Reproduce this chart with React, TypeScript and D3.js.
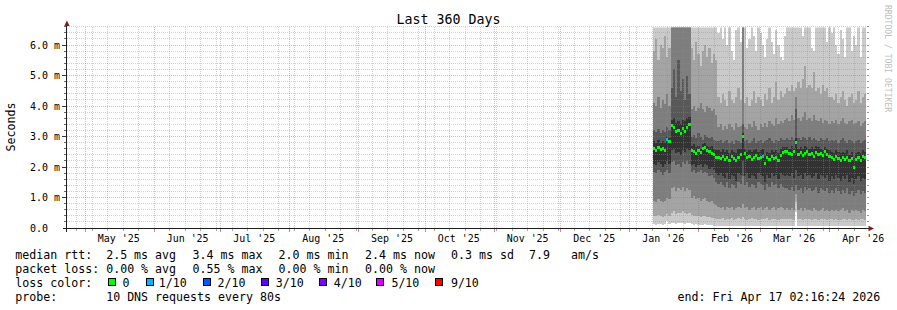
import React from "react";
import * as d3 from "d3";

const W = 897;
const H = 310;
const PLOT_L = 67;
const PLOT_R = 867;
const PLOT_B = 228;
const SMOKE_TOP = 27.5;
const GRID_TOP = 26;

const DAY = 86400000;
const axisStart = new Date(Date.UTC(2025, 3, 22, 17, 0));
const axisEnd = new Date(Date.UTC(2026, 3, 17, 17, 0));
const dataStart = Date.UTC(2026, 0, 11, 8, 0);

const titleText = "Last 360 Days";
const yAxisTitle = "Seconds";
const watermark = "RRDTOOL / TOBI OETIKER";
const yTickValues = [0, 1, 2, 3, 4, 5, 6];
const yTickLabels = ["0.0", "1.0 m", "2.0 m", "3.0 m", "4.0 m", "5.0 m", "6.0 m"];

// sorted ping percentiles (ms), one value per day from 11 Jan 2026
const ping1 = [
  0.12, 0.10, 0.14, 0.12, 0.10, 0.12, 0.22, 0.12,
  0.15, 0.18, 0.14, 0.16, 0.15, 0.18, 0.14, 0.15, 0.16,
  0.12, 0.10, 0.12, 0.10, 0.11, 0.10, 0.12, 0.10, 0.09, 0.10, 0.08, 0.07,
  0.06, 0.05, 0.07, 0.06, 0.05, 0.06, 0.07, 0.05, 0.06, 0.06, 0.05, 0.08, 0.06, 0.05, 0.06, 0.07,
  0.05, 0.06, 0.06, 0.05, 0.07, 0.06, 0.05, 0.06, 0.07, 0.05, 0.06, 0.06, 0.05, 0.06, 0.07,
  0.06, 0.05, 0.06, 0.07, 0.52, 0.06, 0.05, 0.06, 0.06, 0.05, 0.07, 0.06, 0.05, 0.06, 0.06,
  0.05, 0.06, 0.07, 0.05, 0.06,
  0.06, 0.05, 0.06, 0.06, 0.05, 0.07, 0.06, 0.05, 0.06, 0.06, 0.05, 0.06, 0.07, 0.05, 0.06, 0.06,
];
const ping2 = [
  0.40, 0.38, 0.42, 0.40, 0.36, 0.40, 0.45, 0.40,
  0.50, 0.55, 0.45, 0.50, 0.48, 0.55, 0.50, 0.45, 0.50,
  0.42, 0.40, 0.38, 0.40, 0.36, 0.40, 0.38, 0.35, 0.36, 0.34, 0.32, 0.30,
  0.30, 0.28, 0.32, 0.26, 0.30, 0.28, 0.33, 0.27, 0.30, 0.32, 0.28, 0.35, 0.30, 0.27, 0.30, 0.32,
  0.28, 0.30, 0.26, 0.30, 0.28, 0.30, 0.32, 0.27, 0.30, 0.28, 0.30, 0.26, 0.30, 0.28, 0.30,
  0.30, 0.28, 0.30, 0.27, 0.86, 0.30, 0.28, 0.26, 0.30, 0.28, 0.30, 0.27, 0.30, 0.28, 0.26,
  0.30, 0.28, 0.30, 0.27, 0.28,
  0.28, 0.26, 0.30, 0.27, 0.25, 0.28, 0.30, 0.26, 0.28, 0.25, 0.27, 0.30, 0.26, 0.28, 0.30, 0.27,
];
const ping3 = [
  0.90, 0.85, 0.95, 0.90, 0.85, 0.90, 1.00, 0.95,
  1.30, 1.35, 1.20, 1.30, 1.25, 1.35, 1.20, 1.30, 1.25,
  1.00, 1.05, 0.95, 1.00, 0.90, 0.95, 1.00, 0.90, 0.85, 0.90, 0.80, 0.75,
  0.70, 0.65, 0.70, 0.60, 0.70, 0.65, 0.70, 0.60, 0.65, 0.70, 0.65, 0.80, 0.65, 0.70, 0.60, 0.65,
  0.70, 0.60, 0.65, 0.70, 0.60, 0.65, 0.70, 0.60, 0.65, 0.70, 0.60, 0.65, 0.70, 0.65, 0.60,
  0.65, 0.60, 0.65, 0.60, 1.10, 0.60, 0.65, 0.55, 0.65, 0.60, 0.60, 0.55, 0.65, 0.60, 0.55,
  0.60, 0.65, 0.55, 0.60, 0.55,
  0.60, 0.55, 0.60, 0.55, 0.60, 0.65, 0.55, 0.60, 0.50, 0.60, 0.55, 0.60, 0.55, 0.50, 0.60, 0.55,
];
const ping4 = [
  1.85, 1.80, 1.90, 1.85, 1.75, 1.85, 1.90, 1.80,
  2.15, 2.20, 2.05, 2.10, 2.00, 2.15, 2.10, 2.20, 2.10,
  1.85, 1.90, 1.80, 1.85, 1.90, 1.80, 1.85, 1.80, 1.70, 1.75, 1.65, 1.50,
  1.45, 1.50, 1.40, 1.35, 1.50, 1.30, 1.45, 1.40, 1.30, 1.50, 1.45, 1.70, 1.40, 1.50, 1.35, 1.45,
  1.40, 1.30, 1.50, 1.45, 1.40, 1.25, 1.45, 1.35, 1.50, 1.40, 1.45, 1.30, 1.45, 1.35, 1.30,
  1.30, 1.25, 1.35, 1.20, 1.40, 1.25, 1.30, 1.15, 1.35, 1.25, 1.30, 1.20, 1.25, 1.35, 1.15,
  1.30, 1.25, 1.20, 1.30, 1.15,
  1.25, 1.15, 1.30, 1.20, 1.10, 1.25, 1.15, 1.30, 1.10, 1.20, 1.05, 1.15, 1.25, 1.10, 1.20, 1.15,
];
const ping5 = [
  2.10, 2.05, 2.15, 2.10, 2.00, 2.10, 2.20, 2.10,
  2.55, 2.60, 2.45, 2.50, 2.40, 2.55, 2.50, 2.60, 2.55,
  2.05, 2.10, 2.00, 2.05, 2.10, 2.00, 2.10, 2.05, 1.95, 2.00, 1.90, 1.80,
  1.75, 1.80, 1.70, 1.65, 1.80, 1.60, 1.75, 1.70, 1.55, 1.80, 1.75, 2.20, 1.70, 1.80, 1.65, 1.75,
  1.70, 1.60, 1.80, 1.75, 1.70, 1.50, 1.75, 1.65, 1.80, 1.70, 1.75, 1.60, 1.80, 1.75, 1.70,
  1.75, 1.70, 1.80, 1.65, 1.90, 1.70, 1.75, 1.60, 1.80, 1.70, 1.75, 1.65, 1.70, 1.80, 1.60,
  1.75, 1.70, 1.65, 1.75, 1.55,
  1.70, 1.60, 1.75, 1.65, 1.55, 1.70, 1.60, 1.75, 1.50, 1.65, 1.45, 1.60, 1.70, 1.55, 1.65, 1.60,
];
const ping6 = [
  2.85, 2.80, 2.90, 2.80, 2.85, 2.80, 3.00, 2.95,
  3.55, 3.60, 3.45, 3.50, 3.40, 3.55, 3.50, 3.60, 3.65,
  2.70, 2.75, 2.65, 2.70, 2.60, 2.75, 2.80, 2.70, 2.65, 2.70, 2.60, 2.55,
  2.55, 2.50, 2.60, 2.50, 2.55, 2.45, 2.55, 2.50, 2.45, 2.60, 2.60, 3.10, 2.60, 2.50, 2.55, 2.50,
  2.55, 2.60, 2.50, 2.55, 2.60, 2.35, 2.50, 2.45, 2.55, 2.50, 2.55, 2.45, 2.60, 2.65, 2.65,
  2.65, 2.60, 2.70, 2.60, 2.95, 2.60, 2.65, 2.60, 2.70, 2.65, 2.60, 2.65, 2.60, 2.70, 2.65,
  2.60, 2.55, 2.65, 2.60, 2.55,
  2.50, 2.45, 2.55, 2.50, 2.45, 2.50, 2.45, 2.55, 2.40, 2.50, 2.30, 2.45, 2.50, 2.45, 2.55, 2.50,
];
const ping7 = [
  3.20, 3.15, 3.25, 3.10, 3.20, 3.15, 3.30, 3.20,
  4.60, 5.20, 4.30, 5.50, 4.50, 4.90, 4.20, 5.00, 4.40,
  3.00, 3.05, 2.95, 3.10, 3.00, 2.90, 3.05, 3.00, 2.95, 3.00, 2.90, 2.85,
  2.85, 2.90, 2.80, 2.85, 2.90, 2.80, 2.85, 2.75, 2.90, 2.85, 2.80, 3.40, 2.85, 2.90, 2.80, 2.85,
  2.95, 2.80, 2.85, 2.90, 2.80, 2.85, 2.90, 2.95, 2.85, 2.80, 2.90, 2.85, 2.95, 2.90, 2.90,
  2.95, 2.90, 3.00, 2.90, 3.90, 2.95, 2.90, 3.00, 2.95, 2.90, 3.00, 2.90, 2.95, 2.90, 2.85,
  2.95, 2.90, 2.90, 2.95, 2.85,
  2.90, 2.85, 2.90, 2.80, 2.90, 2.95, 2.85, 2.80, 2.90, 2.85, 2.80, 2.85, 2.90, 2.80, 2.85, 2.90,
];
const ping8 = [
  4.10, 4.00, 4.30, 3.95, 4.20, 4.05, 4.40, 4.00,
  7.00, 7.00, 7.00, 7.00, 7.00, 7.00, 7.00, 7.00, 7.00,
  3.90, 4.00, 3.85, 3.95, 4.10, 3.90, 3.80, 4.00, 3.95, 3.85, 3.90, 3.70,
  3.30, 3.40, 3.20, 3.35, 3.25, 3.40, 3.30, 3.20, 3.45, 3.30, 3.35, 7.00, 3.30, 3.25, 3.40, 3.30,
  3.50, 3.35, 3.20, 3.40, 3.30, 3.45, 3.30, 3.50, 3.40, 3.35, 3.60, 3.40, 3.50, 3.45, 3.55,
  3.60, 3.50, 3.70, 3.55, 4.30, 3.60, 3.50, 3.65, 3.80, 3.55, 3.60, 3.50, 3.70, 3.55, 3.50,
  3.60, 3.45, 3.55, 3.50, 3.40,
  3.50, 3.45, 3.55, 3.40, 3.50, 3.60, 3.45, 3.40, 3.50, 3.55, 3.40, 3.45, 3.50, 3.35, 3.45, 3.50,
];
const ping9 = [
  5.80, 6.20, 5.50, 6.00, 5.90, 6.30, 5.60, 5.90,
  7.00, 7.00, 7.00, 7.00, 7.00, 7.00, 7.00, 7.00, 7.00,
  5.90, 5.50, 6.10, 5.70, 5.30, 5.80, 6.00, 5.60, 5.90, 5.40, 5.70, 5.50,
  4.30, 4.10, 4.40, 4.20, 4.00, 4.50, 4.20, 4.10, 4.30, 4.60, 4.20, 7.00, 4.10, 4.30, 4.00, 4.20,
  4.50, 4.10, 4.30, 4.20, 4.00, 4.40, 4.20, 4.60, 4.10, 4.30, 4.80, 4.20, 4.50, 4.30, 4.40,
  4.60, 4.50, 4.70, 4.50, 4.60, 4.80, 4.60, 4.90, 5.30, 4.60, 4.70, 4.60, 5.10, 4.50, 4.60,
  4.40, 4.70, 4.50, 4.60, 4.30,
  4.30, 4.20, 4.40, 4.10, 4.30, 4.50, 4.20, 4.00, 4.30, 4.40, 4.10, 4.20, 4.50, 4.10, 4.30, 4.40,
];
const ping10 = [
  7.0, 7.0, 7.0, 7.0, 7.0, 7.0, 7.0, 7.0,
  7.0, 7.0, 7.0, 7.0, 7.0, 7.0, 7.0, 7.0, 7.0,
  7.0, 7.0, 7.0, 7.0, 7.0, 7.0, 7.0, 7.0, 7.0, 7.0, 7.0, 7.0,
  6.4, 7.0, 6.2, 6.7, 6.0, 6.8, 5.8, 5.5, 6.5, 6.9, 6.1, 7.0, 6.6, 5.9, 6.2, 6.8,
  6.3, 5.8, 6.7, 6.4, 6.0, 5.6, 6.2, 6.8, 6.1, 5.7, 6.5, 6.0, 5.6, 5.5, 6.3,
  7.0, 7.0, 6.9, 7.0, 7.0, 7.0, 7.0, 6.3, 7.0, 7.0, 7.0, 5.9, 5.8, 7.0, 7.0,
  6.8, 7.0, 7.0, 6.1, 7.0,
  6.4, 6.8, 6.0, 5.7, 6.5, 6.2, 5.6, 6.6, 6.9, 5.8, 6.3, 6.0, 6.7, 5.6, 7.0, 7.0,
];
const median = [
  2.60, 2.55, 2.65, 2.58, 2.62, 2.55, 2.90, 2.85,
  3.35, 3.30, 3.15, 3.20, 3.10, 3.25, 3.15, 3.30, 3.40,
  2.55, 2.50, 2.45, 2.55, 2.48, 2.60, 2.63, 2.55, 2.50, 2.45, 2.40, 2.32,
  2.30, 2.28, 2.35, 2.25, 2.30, 2.22, 2.35, 2.28, 2.20, 2.32, 2.40, 3.00, 2.45, 2.30, 2.35, 2.25,
  2.32, 2.38, 2.28, 2.30, 2.36, 2.10, 2.30, 2.25, 2.35, 2.28, 2.32, 2.22, 2.38, 2.48, 2.50,
  2.50, 2.45, 2.40, 2.50, 2.79, 2.42, 2.48, 2.38, 2.45, 2.50, 2.40, 2.44, 2.36, 2.48, 2.42,
  2.45, 2.38, 2.50, 2.40, 2.35,
  2.30, 2.25, 2.33, 2.28, 2.22, 2.30, 2.26, 2.32, 2.20, 2.28, 2.00, 2.25, 2.30, 2.22, 2.35, 2.30,
];
// lost pings out of 10 per day
const loss = [
  0, 0, 0, 0, 0, 0, 1, 0,
  0, 0, 0, 0, 0, 0, 0, 0, 0,
  0, 0, 0, 0, 0, 0, 0, 0, 0, 0, 0, 0,
  0, 0, 0, 0, 0, 0, 0, 0, 0, 0, 0, 0, 0, 0, 0, 0,
  0, 0, 0, 0, 1, 0, 0, 0, 0, 0, 0, 0, 0, 0, 0,
  0, 0, 0, 0, 0, 0, 0, 0, 0, 0, 0, 0, 0, 0, 0,
  0, 0, 0, 0, 0,
  0, 0, 0, 0, 0, 0, 0, 0, 0, 0, 0, 0, 0, 0, 0, 0,
];

const smokeColors = ["#cacaca", "#a4a4a4", "#7e7e7e", "#585858", "#323232"];
const lossLevels = [0, 1, 2, 3, 4, 5, 9];
const lossLabels = ["0", "1/10", "2/10", "3/10", "4/10", "5/10", "9/10"];
const lossColors = ["#00ff00", "#00b8ff", "#0059ff", "#5e00ff", "#7e00ff", "#dd00ff", "#ff0000"];

const rttLegend = ["median rtt:  2.5 ms avg", "3.4 ms max", "2.0 ms min", "2.4 ms now", "0.3 ms sd", "7.9   am/s"];
const lossLegend = ["packet loss: 0.00 % avg", "0.55 % max", "0.00 % min", "0.00 % now"];
const lossColorTitle = "loss color:";
const probeLine = "probe:       10 DNS requests every 80s";
const endLine = "end: Fri Apr 17 02:16:24 2026";

// layout
const legendCols = [15.3, 192.5, 278.5, 365, 451, 529];
const swatchX = [108, 146, 203, 261, 319, 376, 435];
const swatchTextX = [122.5, 158.8, 217.5, 275.8, 333.7, 391.4, 450.9];
const lineY = [258.5, 272.5, 286.5, 300.5];

const FONT = "'DejaVu Sans Mono', monospace";
const MINOR = "rgba(143,143,143,0.4)";
const MAJOR = "rgba(222,79,79,0.45)";

export default function App() {
  const x = d3.scaleUtc().domain([axisStart, axisEnd]).range([PLOT_L, PLOT_R]);
  const y = d3.scaleLinear().domain([0, 6]).range([PLOT_B, 45]);
  const px = (t: Date) => Math.floor(x(t)) + 0.5;
  const py = (v: number) => Math.floor(y(v)) + 0.5;

  const n = median.length;
  const times = d3.range(n + 1).map((i) => new Date(dataStart + i * DAY));
  const pings = [ping1, ping2, ping3, ping4, ping5, ping6, ping7, ping8, ping9, ping10];

  const bands = smokeColors.map((color, b) => {
    const lo = pings[b];
    const hi = pings[9 - b];
    const pts = times.map((t, i) => ({ t, lo: lo[Math.min(i, n - 1)], hi: hi[Math.min(i, n - 1)] }));
    const path = d3
      .area<any>()
      .x((d) => x(d.t))
      .y0((d) => y(d.lo))
      .y1((d) => y(d.hi))
      .curve(d3.curveStepAfter)(pts);
    return { color, path: path || "" };
  });

  const colorForLoss = (l: number) => {
    let idx = 0;
    lossLevels.forEach((lv, i) => {
      if (l >= lv) idx = i;
    });
    return lossColors[idx];
  };

  const minorY = d3.range(1, 34).filter((i) => i % 5 !== 0).map((i) => i * 0.2);
  const majorY = yTickValues.slice(1);
  const monthLines = d3.utcMonth.range(axisStart, axisEnd);
  const monthKeys = new Set(monthLines.map((m) => d3.utcDay.floor(m).getTime()));
  const weekLines = d3.utcSunday.range(axisStart, axisEnd).filter((w) => !monthKeys.has(w.getTime()));
  const monthLabels = d3.utcMonth
    .range(d3.utcMonth.floor(axisStart), axisEnd)
    .map((m) => d3.utcDay.offset(m, 15))
    .filter((t) => t >= axisStart && t <= axisEnd);
  const fmt = d3.utcFormat("%b '%y");

  const preStyle: React.CSSProperties = { whiteSpace: "pre" };

  return (
    <svg
      width={W}
      height={H}
      viewBox={`0 0 ${W} ${H}`}
      style={{ position: "absolute", left: 0, top: 0, background: "#ffffff" }}
      fontFamily={FONT}
    >
      <defs>
        <clipPath id="plotClip">
          <rect x={PLOT_L} y={SMOKE_TOP} width={PLOT_R - PLOT_L} height={PLOT_B - SMOKE_TOP} />
        </clipPath>
      </defs>
      <rect x={0} y={0} width={W} height={H} fill="#ffffff" />

      {/* smoke */}
      <g clipPath="url(#plotClip)" shapeRendering="crispEdges">
        {bands.map((b, i) => (
          <path key={i} d={b.path} fill={b.color} />
        ))}
      </g>

      {/* grid */}
      <g shapeRendering="crispEdges" strokeWidth={1} strokeDasharray="1 1">
        {minorY.map((v) => (
          <line key={`hm${v}`} x1={PLOT_L} x2={PLOT_R} y1={py(v)} y2={py(v)} stroke={MINOR} />
        ))}
        {weekLines.map((t) => (
          <line key={`vm${t.getTime()}`} x1={px(t)} x2={px(t)} y1={PLOT_B} y2={GRID_TOP} stroke={MINOR} />
        ))}
        {majorY.map((v) => (
          <line key={`hM${v}`} x1={PLOT_L} x2={PLOT_R} y1={py(v)} y2={py(v)} stroke={MAJOR} />
        ))}
        {monthLines.map((t) => (
          <line key={`vM${t.getTime()}`} x1={px(t)} x2={px(t)} y1={PLOT_B} y2={GRID_TOP} stroke={MAJOR} />
        ))}
      </g>

      {/* ticks */}
      <g shapeRendering="crispEdges" strokeWidth={1}>
        {minorY.map((v) => (
          <g key={`tm${v}`}>
            <line x1={64} x2={66} y1={py(v)} y2={py(v)} stroke="#6a6a6a" />
            <line x1={867} x2={869} y1={py(v)} y2={py(v)} stroke="#9a9a9a" />
          </g>
        ))}
        {majorY.map((v) => (
          <g key={`tM${v}`}>
            <line x1={62} x2={66} y1={py(v)} y2={py(v)} stroke="#3a3a3a" />
            <line x1={867} x2={869} y1={py(v)} y2={py(v)} stroke="#d88a8a" />
          </g>
        ))}
        {weekLines.map((t) => (
          <line key={`xt${t.getTime()}`} x1={px(t)} x2={px(t)} y1={229} y2={231} stroke="#a8a8a8" />
        ))}
        {monthLines.map((t) => (
          <line key={`xT${t.getTime()}`} x1={px(t)} x2={px(t)} y1={229} y2={232} stroke="#e08080" />
        ))}
      </g>

      {/* median */}
      <g shapeRendering="crispEdges">
        {median.map((m, i) => {
          const x0 = x(times[i]);
          const x1 = x(times[i + 1]);
          return (
            <rect
              key={`md${i}`}
              x={x0}
              width={x1 - x0}
              y={y(m) - 1.5}
              height={3}
              fill={colorForLoss(loss[i])}
            />
          );
        })}
      </g>

      {/* axes */}
      <g shapeRendering="crispEdges">
        <line x1={62.5} x2={870} y1={228.5} y2={228.5} stroke="#1f1f1f" strokeWidth={1} />
        <line x1={66.5} x2={66.5} y1={232} y2={24} stroke="#1f1f1f" strokeWidth={1} />
      </g>
      <polygon points="64.3,26 69.6,26 66.9,20.5" fill="#7f1f1f" />
      <polygon points="868.5,225.8 868.5,231.2 874,228.5" fill="#7f1f1f" />

      {/* y tick labels */}
      {yTickValues.map((v, i) => (
        <text key={`yl${v}`} x={30} y={y(v) + 3.7} fontSize={9.966} fill="#000" style={preStyle}>
          {yTickLabels[i]}
        </text>
      ))}

      {/* x labels */}
      {monthLabels.map((t) => (
        <text key={`xl${t.getTime()}`} x={x(t)} y={241.6} fontSize={9.966} textAnchor="middle" fill="#000" style={preStyle}>
          {fmt(t)}
        </text>
      ))}

      {/* title */}
      <text x={448.5} y={24} fontSize={13.29} textAnchor="middle" fill="#000" style={preStyle}>
        {titleText}
      </text>

      {/* y axis title */}
      <text transform="translate(15.3,127) rotate(-90)" fontSize={11.627} textAnchor="middle" fill="#000" style={preStyle}>
        {yAxisTitle}
      </text>

      {/* watermark */}
      <text transform="translate(885,5) rotate(90)" fontSize={8.1} fill="#c0c0c0" style={preStyle}>
        {watermark}
      </text>

      {/* legend */}
      <g fontSize={11.627} fill="#000">
        {rttLegend.map((s, i) => (
          <text key={`r${i}`} x={legendCols[i]} y={lineY[0]} style={preStyle}>
            {s}
          </text>
        ))}
        {lossLegend.map((s, i) => (
          <text key={`l${i}`} x={legendCols[i]} y={lineY[1]} style={preStyle}>
            {s}
          </text>
        ))}
        <text x={legendCols[0]} y={lineY[2]} style={preStyle}>
          {lossColorTitle}
        </text>
        {lossLabels.map((s, i) => (
          <g key={`lc${i}`}>
            <rect
              x={swatchX[i] + 0.5}
              y={278.5}
              width={7}
              height={7}
              fill={lossColors[i]}
              stroke="#000"
              strokeWidth={1}
              shapeRendering="crispEdges"
            />
            <text x={swatchTextX[i]} y={lineY[2]} style={preStyle}>
              {s}
            </text>
          </g>
        ))}
        <text x={legendCols[0]} y={lineY[3]} style={preStyle}>
          {probeLine}
        </text>
        <text x={677.6} y={lineY[3]} style={preStyle}>
          {endLine}
        </text>
      </g>
    </svg>
  );
}
